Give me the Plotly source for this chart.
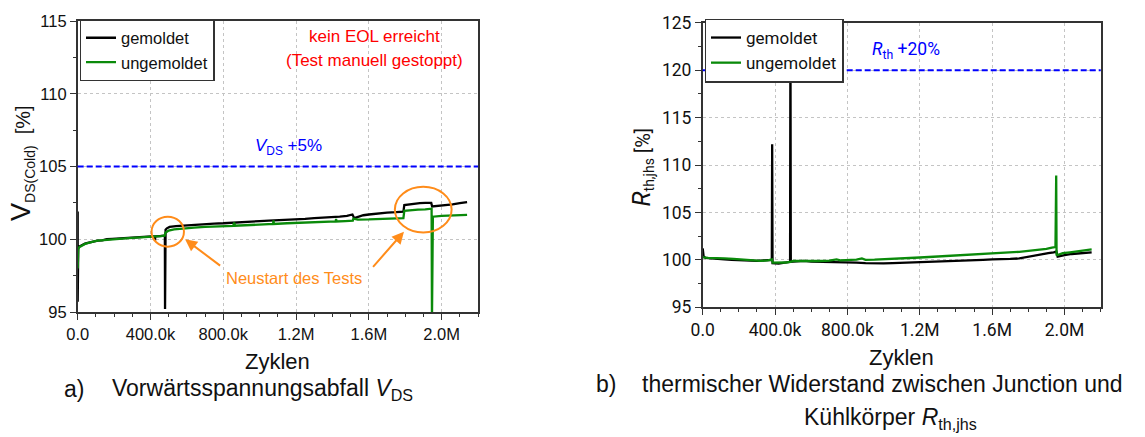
import plotly.graph_objects as go

W, H = 1145, 437

# ---------------- data ----------------
x_tickvals = [0, 400000, 800000, 1200000, 1600000, 2000000]
x_ticktext = ["0.0", "400.0k", "800.0k", "1.2M", "1.6M", "2.0M"]

# (a) V_DS(Cold) [%]
vds_gem_x = [0, 0, 3e3, 8e3, 15e3, 25e3, 40e3, 55e3, 70e3, 90e3, 110e3, 135e3, 160e3, 190e3, 220e3,
             250e3, 280e3, 305e3, 330e3, 355e3, 380e3, 405e3, 424e3, 425e3, 426e3, 450e3, 470e3, 479e3,
             480e3, 481e3, 483e3, 490e3, 505e3, 540e3, 570e3, 600e3, 650e3, 700e3, 750e3, 800e3, 850e3,
             900e3, 950e3, 1000e3, 1050e3, 1100e3, 1150e3, 1200e3, 1250e3, 1300e3, 1350e3, 1400e3,
             1440e3, 1480e3, 1510e3, 1520e3, 1540e3, 1570e3, 1600e3, 1650e3, 1700e3, 1750e3, 1790e3,
             1795e3, 1820e3, 1850e3, 1880e3, 1910e3, 1943e3, 1948e3, 1980e3, 2020e3, 2060e3, 2100e3, 2140e3]
vds_gem_y = [101.9, 95.7, 99.4, 99.5, 99.55, 99.65, 99.7, 99.75, 99.8, 99.85, 99.9, 99.93, 100.0, 100.02,
             100.05, 100.07, 100.1, 100.12, 100.15, 100.15, 100.2, 100.2, 100.2, 99.9, 100.2, 100.22,
             100.25, 100.25, 95.2, 100.6, 100.65, 100.75, 100.85, 100.9, 100.93, 100.95, 101.0, 101.05,
             101.08, 101.1, 101.15, 101.2, 101.22, 101.25, 101.28, 101.3, 101.32, 101.35, 101.4, 101.45,
             101.48, 101.5, 101.55, 101.6, 101.7, 101.45, 101.55, 101.65, 101.7, 101.78, 101.83, 101.86,
             101.9, 102.35, 102.4, 102.45, 102.48, 102.5, 102.5, 102.25, 102.28, 102.33, 102.4, 102.48, 102.55]

vds_ungem_x = [0, 3e3, 8e3, 15e3, 25e3, 40e3, 55e3, 70e3, 90e3, 110e3, 135e3, 160e3, 190e3, 220e3, 250e3,
               280e3, 305e3, 330e3, 355e3, 380e3, 405e3, 430e3, 455e3, 478e3, 482e3, 500e3, 530e3, 580e3,
               640e3, 700e3, 750e3, 800e3, 855e3, 860e3, 865e3, 950e3, 1050e3, 1074e3, 1076e3, 1078e3,
               1150e3, 1250e3, 1350e3, 1418e3, 1420e3, 1422e3, 1470e3, 1512e3, 1515e3, 1540e3, 1600e3,
               1650e3, 1700e3, 1750e3, 1790e3, 1795e3, 1830e3, 1870e3, 1910e3, 1945e3, 1947e3, 1949e3,
               1952e3, 2000e3, 2050e3, 2100e3, 2140e3]
vds_ungem_y = [98.0, 99.3, 99.45, 99.5, 99.6, 99.68, 99.73, 99.8, 99.85, 99.9, 99.93, 99.98, 100.0, 100.03,
               100.06, 100.08, 100.1, 100.13, 100.15, 100.18, 100.2, 100.2, 100.22, 100.25, 100.45, 100.6,
               100.68, 100.75, 100.8, 100.85, 100.88, 100.9, 100.92, 101.15, 100.93, 100.98, 101.03, 101.05,
               101.3, 101.05, 101.1, 101.15, 101.2, 101.22, 101.4, 101.22, 101.25, 101.28, 101.42, 101.35,
               101.36, 101.38, 101.4, 101.43, 101.45, 101.95, 102.0, 102.03, 102.06, 102.1, 94.5, 101.55,
               101.55, 101.6, 101.62, 101.65, 101.67]

vds_limit = 105

# (b) R_th,jhs [%]
rth_gem_x = [0, 5e3, 15e3, 40e3, 80e3, 120e3, 160e3, 200e3, 250e3, 300e3, 340e3, 382e3, 384e3, 386e3,
             420e3, 450e3, 483e3, 485e3, 487e3, 520e3, 560e3, 600e3, 650e3, 700e3, 750e3, 800e3, 850e3,
             900e3, 950e3, 1000e3, 1050e3, 1100e3, 1150e3, 1200e3, 1250e3, 1300e3, 1350e3, 1400e3, 1450e3,
             1500e3, 1550e3, 1600e3, 1650e3, 1700e3, 1750e3, 1800e3, 1850e3, 1880e3, 1910e3, 1940e3,
             1955e3, 1962e3, 1980e3, 2000e3, 2040e3, 2080e3, 2110e3, 2150e3]
rth_gem_y = [101.2, 100.4, 100.2, 100.15, 100.1, 100.05, 100.0, 99.95, 99.92, 99.9, 99.95, 100.0, 112.2,
             99.65, 99.6, 99.7, 99.8, 126.0, 99.8, 99.85, 99.9, 99.82, 99.8, 99.78, 99.8, 99.75, 99.7,
             99.65, 99.6, 99.62, 99.65, 99.68, 99.7, 99.72, 99.75, 99.8, 99.82, 99.85, 99.9, 99.95, 100.0,
             100.05, 100.05, 100.1, 100.15, 100.3, 100.45, 100.55, 100.7, 100.8, 100.88, 100.35, 100.45,
             100.5, 100.62, 100.7, 100.75, 100.8]

rth_ungem_x = [0, 5e3, 30e3, 80e3, 120e3, 170e3, 220e3, 270e3, 320e3, 360e3, 383e3, 387e3, 420e3, 460e3,
               486e3, 500e3, 550e3, 600e3, 650e3, 700e3, 740e3, 760e3, 800e3, 850e3, 880e3, 900e3, 950e3,
               1000e3, 1050e3, 1100e3, 1150e3, 1200e3, 1250e3, 1300e3, 1350e3, 1400e3, 1450e3, 1500e3,
               1550e3, 1600e3, 1650e3, 1700e3, 1750e3, 1800e3, 1850e3, 1900e3, 1930e3, 1950e3, 1954e3,
               1956e3, 1962e3, 1990e3, 2030e3, 2070e3, 2110e3, 2150e3]
rth_ungem_y = [100.35, 100.25, 100.2, 100.2, 100.15, 100.1, 100.05, 99.95, 99.9, 99.95, 100.05, 99.7, 99.7,
               99.72, 99.8, 99.9, 99.88, 99.85, 99.88, 99.92, 100.05, 99.95, 100.0, 100.02, 100.15, 100.0,
               100.02, 100.05, 100.1, 100.15, 100.2, 100.25, 100.3, 100.35, 100.4, 100.45, 100.55, 100.6,
               100.65, 100.7, 100.75, 100.8, 100.85, 100.95, 101.05, 101.15, 101.3, 101.35, 108.9, 100.55,
               100.5, 100.7, 100.8, 100.9, 101.0, 101.1]

rth_limit = 120

# ---------------- styling ----------------
ARIAL = "Liberation Sans, Arial, sans-serif"
ROBOTO = "Roboto, sans-serif"
BLACK = "#000000"
GREEN = "#0a8a0a"
BLUE = "#0000ff"
RED = "#ff0000"
ORANGE = "#ff8c1a"
AX = "#333333"
GRID = "#c4c4c4"


def px(v):
    return v / W


def py(v):
    return 1 - v / H


fig = go.Figure()
fig.add_trace(go.Scatter(x=vds_gem_x, y=vds_gem_y, mode="lines", name="gemoldet",
                         line=dict(color=BLACK, width=2.3), xaxis="x", yaxis="y", legend="legend"))
fig.add_trace(go.Scatter(x=vds_ungem_x, y=vds_ungem_y, mode="lines", name="ungemoldet",
                         line=dict(color=GREEN, width=2.3), xaxis="x", yaxis="y", legend="legend"))
fig.add_trace(go.Scatter(x=rth_gem_x, y=rth_gem_y, mode="lines", name="gemoldet",
                         line=dict(color=BLACK, width=2.3), xaxis="x2", yaxis="y2", legend="legend2"))
fig.add_trace(go.Scatter(x=rth_ungem_x, y=rth_ungem_y, mode="lines", name="ungemoldet",
                         line=dict(color=GREEN, width=2.3), xaxis="x2", yaxis="y2", legend="legend2"))


def xaxis_cfg(domain, anchor, family, size):
    return dict(domain=domain, anchor=anchor, range=[0, 2.2e6], tickmode="array",
                tickvals=x_tickvals, ticktext=x_ticktext, ticks="outside", ticklen=6, tickwidth=1.2,
                tickcolor=AX, showline=True, linecolor=AX, linewidth=1.5, mirror=True,
                showgrid=True, gridcolor=GRID, griddash="3px,3px", gridwidth=1, zeroline=False,
                tickfont=dict(family=family, size=size, color="#111"),
                minor=dict(tickmode="linear", tick0=0, dtick=100000, ticks="outside", ticklen=3,
                           tickwidth=1, tickcolor=AX, showgrid=False),
                automargin=False, fixedrange=True)


def yaxis_cfg(domain, anchor, rng, family, size):
    return dict(domain=domain, anchor=anchor, range=rng, tickmode="linear", tick0=95, dtick=5,
                ticks="outside", ticklen=6, tickwidth=1.2, tickcolor=AX, showline=True, linecolor=AX,
                linewidth=1.5, mirror=True, showgrid=True, gridcolor=GRID, griddash="3px,3px",
                gridwidth=1, zeroline=False, tickfont=dict(family=family, size=size, color="#111"),
                minor=dict(tickmode="linear", tick0=95, dtick=2.5, ticks="outside", ticklen=3,
                           tickwidth=1, tickcolor=AX, showgrid=False),
                automargin=False, fixedrange=True)


fig.update_layout(
    width=W, height=H, margin=dict(l=0, r=0, t=0, b=0),
    paper_bgcolor="white", plot_bgcolor="white", showlegend=True,
    xaxis=xaxis_cfg([px(77.7), px(478)], "y", ARIAL, 16.5),
    yaxis=yaxis_cfg([py(312), py(21)], "x", [95, 115], ARIAL, 16.5),
    xaxis2=xaxis_cfg([px(702.7), px(1100.7)], "y2", ROBOTO, 17.5),
    yaxis2=yaxis_cfg([py(307.3), py(22.7)], "x2", [95, 125], ROBOTO, 17.5),
    legend=dict(x=px(79.5), y=py(19), xanchor="left", yanchor="top", bgcolor="white",
                bordercolor=AX, borderwidth=1.5, font=dict(family=ARIAL, size=16.5, color="#111"),
                tracegroupgap=0, itemwidth=30),
    legend2=dict(x=px(704.5), y=py(18.5), xanchor="left", yanchor="top", bgcolor="white",
                 bordercolor=AX, borderwidth=1.5, font=dict(family=ROBOTO, size=17, color="#111"),
                 tracegroupgap=0, itemwidth=30),
)

# threshold lines
fig.add_shape(type="line", xref="x domain", yref="y", x0=0, x1=1, y0=vds_limit, y1=vds_limit,
              line=dict(color=BLUE, width=2, dash="6px,3px"))
fig.add_shape(type="line", xref="x2 domain", yref="y2", x0=0, x1=1, y0=rth_limit, y1=rth_limit,
              line=dict(color=BLUE, width=2, dash="6px,3px"))

# orange restart circles
fig.add_shape(type="circle", xref="x", yref="y", x0=0.495e6 - 0.089e6, x1=0.495e6 + 0.089e6,
              y0=100.52 - 1.03, y1=100.52 + 1.03, line=dict(color=ORANGE, width=2))
fig.add_shape(type="circle", xref="x", yref="y", x0=1.899e6 - 0.156e6, x1=1.899e6 + 0.156e6,
              y0=102.04 - 1.57, y1=102.04 + 1.57, line=dict(color=ORANGE, width=2))

# arrows
for (hx, hy, tx, ty) in [(0.59e6, 100.0, 0.791e6, 98.11), (1.793e6, 100.52, 1.616e6, 98.0)]:
    fig.add_annotation(x=hx, y=hy, ax=tx, ay=ty, xref="x", yref="y", axref="x", ayref="y", text="",
                       showarrow=True, arrowhead=2, arrowsize=1.2, arrowwidth=2, arrowcolor=ORANGE,
                       standoff=0, startstandoff=0)


def ann(x, y, text, family, size, color="#111", xanchor="center", angle=0):
    fig.add_annotation(x=px(x), y=py(y), xref="paper", yref="paper", text=text, showarrow=False,
                       xanchor=xanchor, yanchor="middle", textangle=angle,
                       font=dict(family=family, size=size, color=color))


# text in panel a
ann(374.5, 36.7, "kein EOL erreicht", ARIAL, 17, RED)
ann(374.5, 60, "(Test manuell gestoppt)", ARIAL, 17, RED)
ann(288.7, 146.7, "<i>V</i><sub>DS</sub> +5%", ARIAL, 17, BLUE)
ann(293.7, 278.3, "Neustart des Tests", ARIAL, 16.5, ORANGE)
# text in panel b
ann(906, 50.7, "<i>R</i><sub>th</sub> +20%", ROBOTO, 17.5, BLUE)

# axis titles
ann(21.7, 163.3, "<span style='font-size:27px'>V</span><sub>DS(Cold)</sub>\u00a0\u00a0[%]", ARIAL, 20,
    angle=-90)
ann(641.7, 166.7, "<span style='font-size:25px'><i>R</i></span><sub>th,jhs</sub> [%]", ROBOTO, 20,
    angle=-90)
ann(277.8, 361, "Zyklen", ARIAL, 22)
ann(901.7, 357, "Zyklen", ARIAL, 22)

# captions
ann(61.7, 389, "a)", ARIAL, 23, xanchor="left")
ann(110, 389, "Vorwärtsspannungsabfall <i>V</i><sub>DS</sub>", ARIAL, 23, xanchor="left")
ann(594, 384, "b)", ARIAL, 23, xanchor="left")
ann(640, 384, "thermischer Widerstand zwischen Junction und", ARIAL, 23, xanchor="left")
ann(890, 418, "Kühlkörper <i>R</i><sub>th,jhs</sub>", ARIAL, 23)

fig.write_html("out.html")
